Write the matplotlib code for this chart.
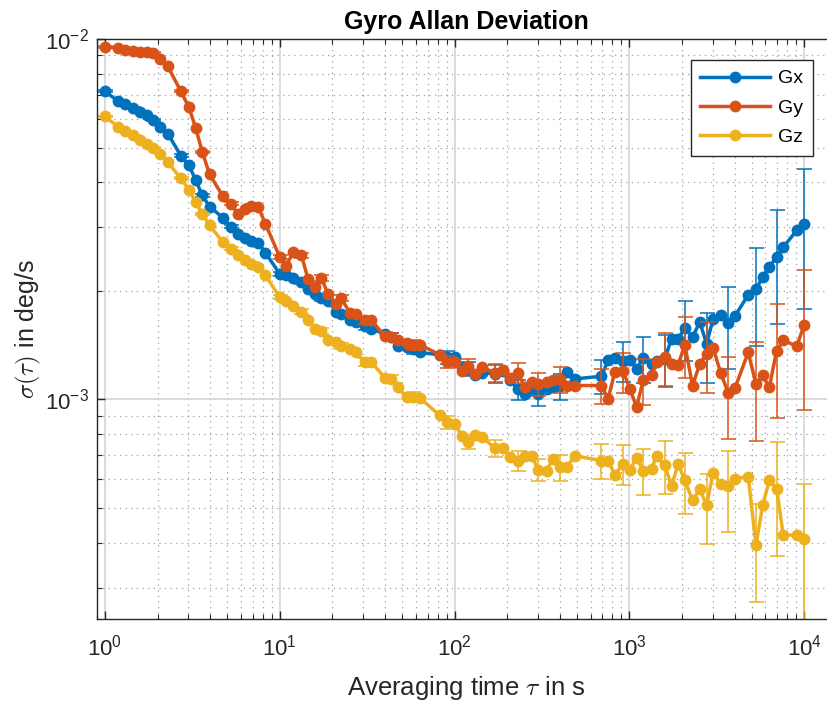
import numpy as np
import matplotlib
matplotlib.use('Agg')
import matplotlib.pyplot as plt
from matplotlib.ticker import LogLocator, NullFormatter

plt.rcParams['font.family'] = ['Liberation Sans', 'DejaVu Sans']
plt.rcParams['mathtext.fontset'] = 'cm'

# --------------------------------------------------------------------------+
# averaging times (s), shared by the three axes
tau = [1.0, 1.19, 1.31, 1.45, 1.58, 1.73, 1.88, 2.07, 2.29, 2.71, 3.02, 3.3, 3.6, 3.97,
       4.73, 5.24, 5.77, 6.3, 6.88, 7.5, 8.28,
       10.0, 10.9, 11.9, 13.3, 14.5, 15.9, 17.3, 18.9, 21.1, 22.5, 25.1, 27.4, 30.6, 33.4,
       39.8, 43.5, 47.5, 53.1, 57.8, 63.2, 82.3, 89.9,
       100.5, 109.6, 119.5, 130.6, 142.6, 170, 189.5, 207, 230.9, 252, 275.6, 300.6, 335.7,
       366.6, 400, 436.8, 487, 692, 755, 825, 921,
       1006, 1099, 1199, 1339, 1430, 1595, 1742, 1901, 2075, 2296, 2529, 2762, 3015, 3323,
       3674, 4012, 4784, 5296, 5781, 6313, 6955, 7590, 9060, 10000]

# allan deviation, 1e-3 deg/s
gx = [7.17, 6.71, 6.61, 6.44, 6.29, 6.14, 5.97, 5.70, 5.46, 4.75, 4.46, 4.07, 3.68, 3.43,
      3.19, 3.01, 2.88, 2.81, 2.76, 2.72, 2.55,
      2.23, 2.22, 2.17, 2.12, 2.03, 1.96, 1.91, 1.87, 1.75, 1.73, 1.66, 1.64, 1.60, 1.57,
      1.52, 1.49, 1.41, 1.40, 1.38, 1.35, 1.33, 1.31,
      1.31, 1.23, 1.217, 1.17, 1.186, 1.178, 1.20, 1.13, 1.066, 1.037, 1.059, 1.037, 1.071,
      1.08, 1.089, 1.19, 1.14, 1.16, 1.283, 1.30, 1.28,
      1.29, 1.217, 1.30, 1.256, 1.275, 1.297, 1.474, 1.474, 1.578, 1.49, 1.64, 1.427, 1.675,
      1.718, 1.632, 1.703, 1.951, 2.02, 2.185, 2.33, 2.49, 2.647, 2.943, 3.065]

gy = [9.5, 9.44, 9.33, 9.29, 9.23, 9.2, 9.14, 8.81, 8.39, 7.17, 6.47, 5.67, 4.86, 4.21,
      3.66, 3.49, 3.27, 3.38, 3.45, 3.43, 3.07,
      2.48, 2.35, 2.56, 2.51, 2.16, 2.05, 2.17, 1.96, 1.84, 1.91, 1.74, 1.73, 1.66, 1.66,
      1.50, 1.49, 1.46, 1.43, 1.42, 1.42, 1.33, 1.27,
      1.27, 1.20, 1.24, 1.18, 1.23, 1.186, 1.21, 1.15, 1.186, 1.08, 1.12, 1.105, 1.118,
      1.13, 1.137, 1.093, 1.093, 1.093, 1.005, 1.19, 1.196,
      1.07, 0.953, 1.13, 1.166, 1.27, 1.31, 1.256, 1.248, 1.418, 1.093, 1.256, 1.34, 1.39,
      1.186, 1.044, 1.075, 1.35, 1.105, 1.166, 1.08, 1.367, 1.458, 1.406, 1.61]

gz = [6.10, 5.70, 5.55, 5.40, 5.25, 5.10, 4.99, 4.80, 4.55, 4.11, 3.82, 3.53, 3.27, 3.04,
      2.73, 2.62, 2.51, 2.44, 2.38, 2.33, 2.21,
      1.92, 1.87, 1.82, 1.75, 1.66, 1.57, 1.55, 1.46, 1.44, 1.41, 1.38, 1.35, 1.27, 1.27,
      1.15, 1.14, 1.08, 1.015, 1.015, 1.01, 0.903, 0.865,
      0.856, 0.792, 0.762, 0.798, 0.789, 0.733, 0.733, 0.692, 0.677, 0.697, 0.697, 0.639, 0.635,
      0.685, 0.649, 0.649, 0.697, 0.677, 0.677, 0.618, 0.663,
      0.639, 0.688, 0.635, 0.642, 0.697, 0.656, 0.575, 0.663, 0.596, 0.525, 0.563, 0.510, 0.626,
      0.584, 0.575, 0.603, 0.611, 0.394, 0.508, 0.596, 0.565, 0.420, 0.421, 0.411]

# effective record length (s) used for the confidence bars
t_rec = 57000.
bar_step = 3   # a bar on every 3rd point only

names = ['Gx', 'Gy', 'Gz']
colors = ['#0072BD', '#D95319', '#EDB120']
# --------------------------------------------------------------------------+

fig = plt.figure(figsize=(8.28, 7.02), dpi=100)
ax = fig.add_axes([97/828, 1-619/702, (835-97)/828, (619-39)/702])

t = np.array(tau)
for name, data, c in zip(names, [gx, gy, gz], colors):
    s = np.array(data)*1e-3
    err = s*np.sqrt(t/t_rec)
    ax.errorbar(t, s, yerr=err, fmt='none', ecolor=c, elinewidth=1.1,
                capsize=5.4, capthick=1.1, errorevery=(0, bar_step))
    ax.plot(t, s, color=c, marker='o', markersize=7.5, linewidth=2.5, label=name)

ax.set_xscale('log')
ax.set_yscale('log')
ax.set_xlim(0.9, 1.5e4)
ax.set_ylim(2.46e-4, 1.0e-2)

ax.xaxis.set_major_locator(LogLocator(base=10, numticks=10))
ax.xaxis.set_minor_locator(LogLocator(base=10, subs=np.arange(2, 10), numticks=20))
ax.yaxis.set_minor_locator(LogLocator(base=10, subs=np.arange(2, 10), numticks=20))
ax.xaxis.set_minor_formatter(NullFormatter())
ax.yaxis.set_minor_formatter(NullFormatter())

ax.grid(which='major', color='#d4d4d4', linestyle='-', linewidth=1.2)
ax.grid(which='minor', color='#a0a0a0', linestyle=(0, (1, 3.5)), linewidth=0.9)
ax.set_axisbelow(True)

for sp in ax.spines.values():
    sp.set_color('#262626')
    sp.set_linewidth(1.0)
ax.tick_params(which='both', direction='in', top=True, right=False,
               colors='#262626', labelsize=16)
ax.tick_params(which='major', length=6, width=1.0)
ax.tick_params(which='minor', length=3.5, width=0.8)
ax.tick_params(axis='x', which='major', pad=11)
ax.tick_params(axis='y', which='major', pad=6)

ax.set_title('Gyro Allan Deviation', fontsize=18, fontweight='bold', pad=7)
ax.set_xlabel(r'Averaging time $\tau$ in s', fontsize=18.5, color='#262626', labelpad=10)
ax.set_ylabel(r'$\sigma(\tau)$ in deg/s', fontsize=18, color='#262626', labelpad=1)

leg = ax.legend(loc='upper right', bbox_to_anchor=(0.970, 0.9637), borderaxespad=0,
                fontsize=14, fancybox=False, framealpha=1, edgecolor='#262626',
                handlelength=3.6, handletextpad=0.4, labelspacing=0.6, borderpad=0.5)
leg.get_frame().set_linewidth(1.0)

fig.savefig('out.png', dpi=100)
